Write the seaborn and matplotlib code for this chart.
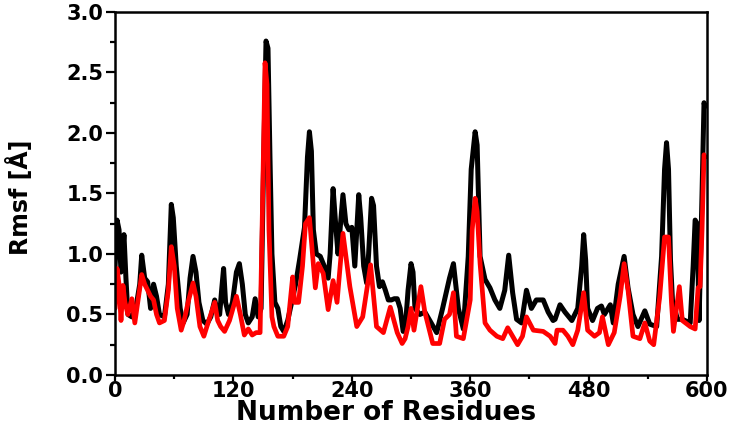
import matplotlib
matplotlib.use('Agg')
import matplotlib.pyplot as plt
import seaborn as sns
import pandas as pd
from matplotlib.ticker import MultipleLocator

sns.set_theme(style='ticks')
plt.rcParams['font.family'] = ['DejaVu Sans']
plt.rcParams['text.color'] = 'black'
plt.rcParams['axes.labelcolor'] = 'black'
plt.rcParams['xtick.color'] = 'black'
plt.rcParams['ytick.color'] = 'black'

# RMSF (residue, value), black trace
black_res = [0, 2, 4, 6, 9, 11, 13, 17, 21, 25, 27, 30, 33, 36, 39, 42, 45, 50, 54, 57,
             59, 62, 66, 69, 73, 76, 79, 82, 85, 89, 93, 97, 101, 103, 106, 108, 110, 112, 115, 119,
             123, 126, 129, 132, 135, 139, 142, 145, 148, 150, 153, 155, 157, 159, 162, 165, 168, 171, 175, 179,
             183, 187, 192, 195, 197, 199, 201, 204, 208, 212, 216, 218, 221, 224, 226, 229, 231, 234, 237, 240,
             243, 245, 247, 249, 252, 255, 257, 260, 262, 265, 268, 271, 274, 277, 280, 283, 286, 289, 292, 294,
             297, 300, 302, 304, 309, 314, 319, 326, 332, 339, 343, 348, 353, 358, 361, 365, 367, 370, 375, 380,
             385, 390, 395, 399, 403, 407, 412, 417, 422, 427, 434, 439, 444, 446, 451, 456, 463, 469, 473, 475,
             477, 479, 484, 489, 493, 496, 502, 505, 510, 516, 520, 525, 530, 537, 542, 549, 554, 557, 559, 561,
             563, 565, 570, 575, 583, 586, 588, 590, 592, 595, 597, 598]
black_rmsf = [0.90, 1.28, 1.20, 0.85, 1.16, 0.80, 0.50, 0.48, 0.55, 0.75, 0.99, 0.80, 0.77, 0.55, 0.75, 0.65, 0.50, 0.48, 0.75, 1.41,
              1.30, 0.90, 0.55, 0.43, 0.50, 0.80, 0.98, 0.85, 0.60, 0.45, 0.42, 0.48, 0.62, 0.55, 0.50, 0.70, 0.88, 0.60, 0.50, 0.60,
              0.85, 0.92, 0.75, 0.50, 0.43, 0.48, 0.63, 0.48, 0.55, 1.50, 2.76, 2.70, 1.80, 1.00, 0.60, 0.55, 0.40, 0.36, 0.45, 0.60,
              0.75, 0.95, 1.22, 1.80, 2.01, 1.85, 1.20, 1.00, 0.98, 0.90, 0.80, 1.00, 1.54, 1.20, 1.00, 1.30, 1.49, 1.25, 1.20, 1.22,
              0.90, 1.20, 1.49, 1.30, 0.90, 0.76, 1.00, 1.46, 1.40, 0.90, 0.73, 0.77, 0.70, 0.62, 0.62, 0.63, 0.63, 0.55, 0.36, 0.37,
              0.70, 0.92, 0.85, 0.55, 0.50, 0.52, 0.45, 0.35, 0.55, 0.80, 0.92, 0.55, 0.38, 0.98, 1.70, 2.01, 1.90, 0.98, 0.79, 0.72,
              0.62, 0.55, 0.70, 0.99, 0.68, 0.46, 0.43, 0.70, 0.55, 0.62, 0.62, 0.52, 0.45, 0.46, 0.58, 0.52, 0.45, 0.55, 0.90, 1.16,
              0.95, 0.55, 0.45, 0.55, 0.57, 0.50, 0.58, 0.43, 0.75, 0.98, 0.72, 0.50, 0.40, 0.53, 0.42, 0.40, 0.98, 1.70, 1.92, 1.70,
              0.95, 0.62, 0.46, 0.46, 0.43, 0.90, 1.28, 1.25, 0.45, 1.50, 2.25, 2.22]

# red trace
red_res = [0, 2, 4, 6, 8, 10, 13, 17, 20, 23, 27, 30, 33, 36, 39, 42, 45, 50, 54, 57,
           60, 63, 67, 70, 74, 79, 82, 86, 90, 95, 101, 104, 107, 111, 116, 123, 127, 131, 135, 139,
           143, 147, 149, 152, 154, 156, 159, 161, 165, 171, 175, 180, 182, 186, 190, 193, 197, 203, 206, 211,
           216, 221, 225, 231, 238, 245, 251, 259, 265, 272, 279, 286, 291, 294, 297, 300, 303, 310, 314, 322,
           329, 334, 339, 343, 346, 353, 360, 362, 365, 367, 370, 375, 380, 387, 393, 398, 403, 408, 413, 417,
           424, 434, 441, 446, 448, 454, 459, 464, 469, 475, 479, 486, 491, 494, 500, 506, 512, 516, 520, 525,
           532, 537, 542, 546, 552, 557, 561, 564, 566, 572, 575, 583, 588, 591, 593, 595, 597, 598]
red_rmsf = [0.55, 0.88, 0.75, 0.45, 0.74, 0.60, 0.50, 0.63, 0.43, 0.60, 0.83, 0.75, 0.70, 0.65, 0.62, 0.50, 0.43, 0.45, 0.70, 1.06,
            0.90, 0.55, 0.37, 0.45, 0.60, 0.76, 0.65, 0.40, 0.32, 0.45, 0.60, 0.45, 0.40, 0.36, 0.45, 0.65, 0.50, 0.33, 0.38, 0.33,
            0.35, 0.35, 1.20, 2.58, 2.40, 1.20, 0.48, 0.40, 0.32, 0.32, 0.40, 0.81, 0.60, 0.60, 0.90, 1.25, 1.30, 0.72, 0.92, 0.84,
            0.54, 0.78, 0.60, 1.17, 0.73, 0.40, 0.48, 0.91, 0.40, 0.35, 0.56, 0.35, 0.26, 0.30, 0.40, 0.55, 0.37, 0.73, 0.52, 0.26,
            0.26, 0.46, 0.50, 0.68, 0.32, 0.30, 0.62, 1.20, 1.46, 1.35, 0.92, 0.43, 0.37, 0.32, 0.30, 0.39, 0.32, 0.25, 0.32, 0.48,
            0.37, 0.36, 0.32, 0.26, 0.37, 0.37, 0.32, 0.25, 0.37, 0.68, 0.37, 0.32, 0.35, 0.48, 0.25, 0.35, 0.65, 0.92, 0.70, 0.32,
            0.30, 0.43, 0.28, 0.25, 0.64, 1.14, 1.14, 0.60, 0.36, 0.73, 0.45, 0.40, 0.38, 0.72, 0.73, 1.20, 1.82, 1.80]

df_black = pd.DataFrame({'residue': black_res, 'rmsf': black_rmsf})
df_red = pd.DataFrame({'residue': red_res, 'rmsf': red_rmsf})

fig = plt.figure(figsize=(7.33, 4.36), dpi=100)
ax = fig.add_axes([0.157, 0.140, 0.8075, 0.8325])

sns.lineplot(data=df_black, x='residue', y='rmsf', color='black', linewidth=3.6, ax=ax)
sns.lineplot(data=df_red, x='residue', y='rmsf', color='#ff0000', linewidth=3.4, ax=ax)

ax.set_xlim(0, 600)
ax.set_ylim(0, 3.0)
ax.xaxis.set_major_locator(MultipleLocator(120))
ax.xaxis.set_minor_locator(MultipleLocator(60))
ax.yaxis.set_major_locator(MultipleLocator(0.5))
ax.yaxis.set_minor_locator(MultipleLocator(0.25))
ax.set_yticklabels([f'{v:.1f}' for v in ax.get_yticks()])

ax.tick_params(which='major', direction='out', length=6.5, width=1.6, labelsize=15, pad=2)
ax.tick_params(axis='x', which='major', length=4.5, pad=0)
ax.tick_params(which='minor', direction='out', length=3.6, width=1.6)
ax.tick_params(axis='x', which='minor', length=3)
for lab in ax.get_xticklabels() + ax.get_yticklabels():
    lab.set_fontweight('heavy')
for sp in ax.spines.values():
    sp.set_visible(True)
    sp.set_linewidth(1.8)
    sp.set_color('black')

ax.set_xlabel('Number of Residues', fontsize=19, fontweight='heavy')
ax.xaxis.set_label_coords(0.458, -0.068)
ax.set_ylabel('Rmsf [Å]', fontsize=17, fontweight='heavy')
ax.yaxis.set_label_coords(-0.138, 0.49)

fig.savefig('out.png', dpi=100)
